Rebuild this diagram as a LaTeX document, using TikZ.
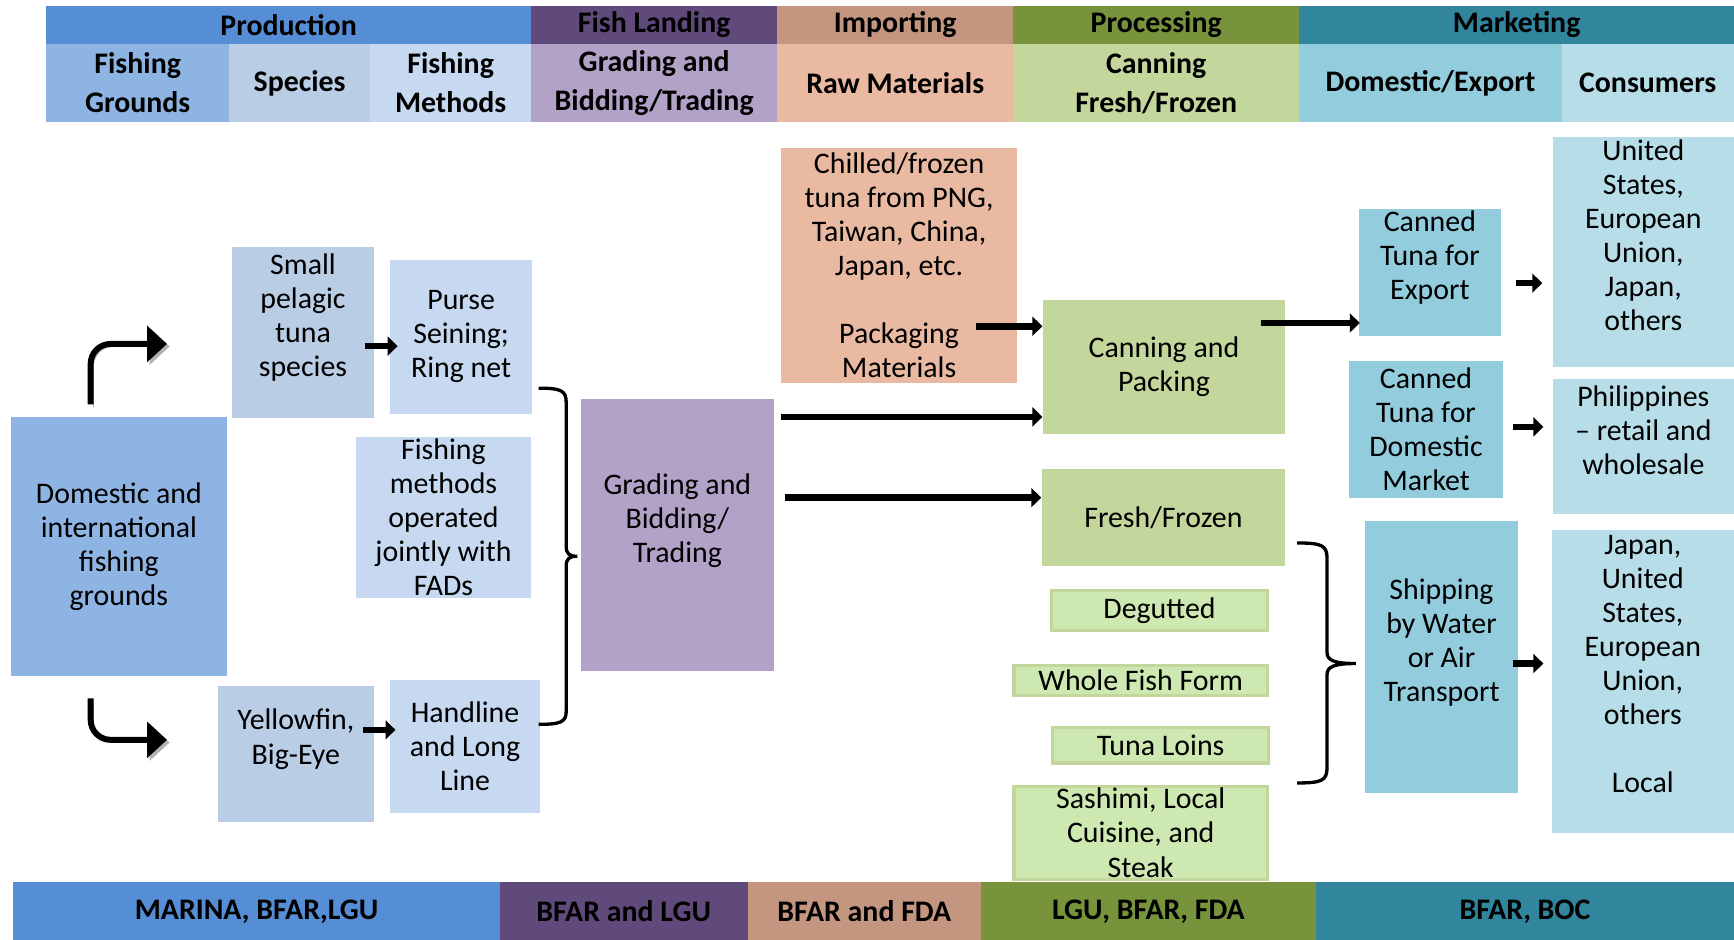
\documentclass[tikz,border=0pt]{standalone}
\usepackage{fontspec}
\setmainfont{Carlito}
\usetikzlibrary{arrows.meta, calc}

\definecolor{prodDark}{RGB}{85,142,213}
\definecolor{groundsBlue}{RGB}{142,180,227}
\definecolor{speciesBlue}{RGB}{185,205,229}
\definecolor{methodsBlue}{RGB}{198,217,241}
\definecolor{landDark}{RGB}{96,74,123}
\definecolor{landLight}{RGB}{179,162,199}
\definecolor{impDark}{RGB}{196,149,127}
\definecolor{impLight}{RGB}{233,185,161}
\definecolor{procDark}{RGB}{119,147,60}
\definecolor{procLight}{RGB}{195,214,155}
\definecolor{cutFill}{RGB}{205,232,176}
\definecolor{mktDark}{RGB}{49,133,156}
\definecolor{mktLight}{RGB}{147,205,221}
\definecolor{mktPale}{RGB}{183,222,232}

\tikzset{
  box/.style={rectangle, inner sep=1pt, align=center,
              font=\fontsize{13.5}{15.4}\selectfont},
  sz/.style 2 args={minimum width=#1*0.5pt, minimum height=#2*0.5pt},
  hdr/.style={box, inner sep=0pt, font=\fontsize{13.5}{17.5}\selectfont\bfseries},
  cutbox/.style={box, fill=cutFill, draw=procLight, line width=1.5pt, inner sep=0pt},
  flow/.style={-{Triangle[length=4.5pt,width=8.5pt]}, line width=3pt},
  bentarrow/.style={-{Triangle[length=9pt,width=16pt]}, line width=2.7pt,
                    rounded corners=9pt,
                    preaction={draw=black!30, transform canvas={shift={(1.2pt,-1.2pt)}}}},
  braceline/.style={line width=1.5pt}
}

\begin{document}
\begin{tikzpicture}[x=0.5pt, y=-0.5pt]
  \useasboundingbox (0,0) rectangle (1568,850);

  % stage headers
  \node[hdr, fill=prodDark, sz={438}{35}]   (production) at (261,22.5)    {Production};
  \node[hdr, fill=landDark, sz={223}{35}]   (landing)    at (591.5,22.5)  {Fish Landing};
  \node[hdr, fill=impDark, sz={213}{35}]    (importing)  at (809.5,22.5)  {Importing};
  \node[hdr, fill=procDark, sz={259}{35}]   (processing) at (1045.5,22.5) {Processing};
  \node[hdr, fill=mktDark, sz={393}{35}]    (marketing)  at (1371.5,22.5) {Marketing};

  \node[hdr, fill=groundsBlue, sz={165}{70}] (hgrounds)  at (124.5,75)  {Fishing\\Grounds};
  \node[hdr, fill=speciesBlue, sz={128}{70}] (hspecies)  at (271,75)    {Species};
  \node[hdr, fill=methodsBlue, sz={145}{70}] (hmethods)  at (407.5,75)  {Fishing\\Methods};
  \node[hdr, fill=landLight, sz={223}{70}]   (hgrading)  at (591.5,75)  {Grading and\\Bidding/Trading};
  \node[hdr, fill=impLight, sz={213}{70}]    (hraw)      at (809.5,75)  {Raw Materials};
  \node[hdr, fill=procLight, sz={259}{70}]   (hcanning)  at (1045.5,75) {Canning\\Fresh/Frozen};
  \node[hdr, fill=mktLight, sz={237}{70}]    (hdomexp)   at (1293.5,75) {Domestic/Export};
  \node[hdr, fill=mktPale, sz={156}{70}]     (hconsumer) at (1490,75)   {Consumers};

  % agencies
  \node[hdr, fill=prodDark, sz={440}{52}]  (amarina)  at (232,824)    {MARINA, BFAR,LGU};
  \node[hdr, fill=landDark, sz={224}{52}]  (abfarlgu) at (564,824)    {BFAR and LGU};
  \node[hdr, fill=impDark, sz={211}{52}]   (abfarfda) at (781.5,824)  {BFAR and FDA};
  \node[hdr, fill=procDark, sz={303}{52}]  (algu)     at (1038.5,824) {LGU, BFAR, FDA};
  \node[hdr, fill=mktDark, sz={378}{52}]   (abfarboc) at (1379,824)   {BFAR, BOC};

  % production
  \node[box, fill=groundsBlue, sz={195}{234}] (grounds)   at (107.5,494)  {Domestic and\\international\\fishing\\grounds};
  \node[box, fill=speciesBlue, sz={128}{155}] (small)     at (274,300.5)  {Small\\pelagic\\tuna\\species\\\mbox{}};
  \node[box, fill=methodsBlue, sz={128}{139}] (purse)     at (417,304.5)  {Purse\\Seining;\\Ring net};
  \node[box, fill=methodsBlue, sz={158}{142}] (fads)      at (401,468)    {Fishing\\methods\\operated\\jointly with\\FADs};
  \node[box, fill=speciesBlue, sz={141}{123}] (yellowfin) at (267.5,681.5) {Yellowfin,\\Big-Eye\\\mbox{}};
  \node[box, fill=methodsBlue, sz={135}{120}] (handline)  at (420.5,675)  {Handline\\and Long\\Line};

  % landing and importing
  \node[box, fill=landLight, sz={175}{246}] (grading) at (612.5,484) {Grading and\\Bidding/\\Trading\\\mbox{}};
  \node[box, fill=impLight, sz={214}{212}]  (chilled) at (813,240)   {Chilled/frozen\\tuna from PNG,\\Taiwan, China,\\Japan, etc.\\\mbox{}\\Packaging\\Materials};

  % processing
  \node[box, fill=procLight, sz={219}{121}] (canning) at (1052.5,331.5) {Canning and\\Packing};
  \node[box, fill=procLight, sz={220}{88}]  (fresh)   at (1052,468)     {Fresh/Frozen};
  \node[cutbox, sz={195}{36}] (degutted) at (1048.5,552)  {Degutted};
  \node[cutbox, sz={229}{27}] (whole)    at (1031.5,615.5) {Whole Fish Form};
  \node[cutbox, sz={195}{32}] (loins)    at (1049.5,674)  {Tuna Loins};
  \node[cutbox, sz={229}{84}] (sashimi)  at (1031.5,753)  {Sashimi, Local\\Cuisine, and\\Steak};

  % marketing
  \node[box, fill=mktLight, sz={128}{111}] (export)   at (1293,246.5)  {Canned\\Tuna for\\Export\\\mbox{}};
  \node[box, fill=mktLight, sz={139}{124}] (domestic) at (1289.5,388)  {Canned\\Tuna for\\Domestic\\Market};
  \node[box, fill=mktLight, sz={139}{246}] (shipping) at (1303.5,594)  {Shipping\\by Water\\or Air\\Transport\\\mbox{}};
  \node[box, fill=mktPale, sz={164}{204}]  (abroad)   at (1486,228)    {United\\States,\\European\\Union,\\Japan,\\others\\\mbox{}};
  \node[box, fill=mktPale, sz={164}{122}]  (retail)   at (1486,404)    {Philippines\\\textendash{} retail and\\wholesale\\\mbox{}};
  \node[box, fill=mktPale, sz={165}{274}]  (overseas) at (1485.5,616)  {Japan,\\United\\States,\\European\\Union,\\others\\\mbox{}\\Local\\\mbox{}};

  % fishing grounds split
  \coordinate (upto) at (151,311);
  \coordinate (dnto) at (151,669);
  \draw[bentarrow] ([shift={(-25.5,-11)}]grounds.north) |- (upto);
  \draw[bentarrow] ([shift={(-25.5,20)}]grounds.south) |- (dnto);

  \draw[flow] ([shift={(-8,12.5)}]small.east) -- ([shift={(7,12.5)}]small.east -| purse.west);
  \draw[flow] ([shift={(-10,-21.5)}]yellowfin.east) -- ([shift={(5,-21.5)}]yellowfin.east -| handline.west);

  % methods into grading
  \draw[braceline] (487,351) .. controls (507,351) and (512,353) .. (512,364)
        -- (512,494) .. controls (512,501) and (515,503) .. (522,503)
        .. controls (515,503) and (512,505) .. (512,512)
        -- (512,643) .. controls (512,653) and (507,655) .. (487,655);

  \draw[flow] ([shift={(6,-107)}]grading.east) -- ([shift={(0,-107)}]grading.east -| canning.west);
  \draw[flow] ([shift={(9,-34)}]grading.east) -- ([shift={(0,-34)}]grading.east -| fresh.west);
  \draw[flow] ([shift={(-38,55)}]chilled.east) -- ([shift={(0,55)}]chilled.east -| canning.west);
  \draw[flow] ([shift={(-22,-39.5)}]canning.east) -- ([shift={(1,-39.5)}]canning.east -| export.west);

  % fresh products to shipping
  \draw[braceline] (1173,491) .. controls (1195,491) and (1200,493) .. (1200,505)
        -- (1200,590) .. controls (1200,597) and (1206,600) .. (1226,600)
        .. controls (1206,600) and (1200,603) .. (1200,610)
        -- (1200,694) .. controls (1200,706) and (1195,708) .. (1173,708);

  \draw[flow] ([shift={(13,9.5)}]export.east) -- ([shift={(-9,9.5)}]export.east -| abroad.west);
  \draw[flow] ([shift={(9,-2)}]domestic.east) -- ([shift={(-8,-2)}]domestic.east -| retail.west);
  \draw[flow] ([shift={(-5,6)}]shipping.east) -- ([shift={(-7,6)}]shipping.east -| overseas.west);
\end{tikzpicture}
\end{document}
